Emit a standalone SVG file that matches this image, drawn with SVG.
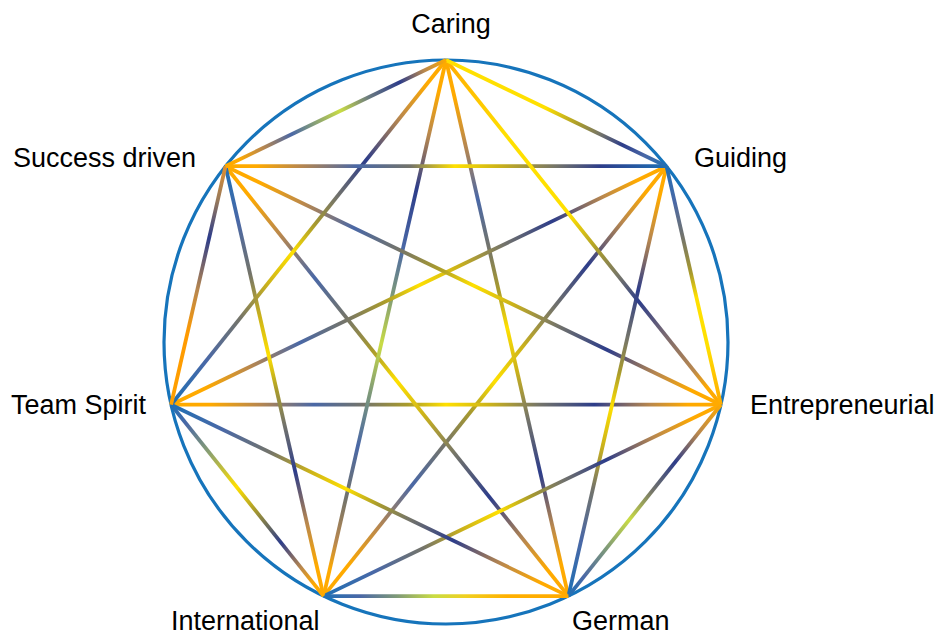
<svg xmlns="http://www.w3.org/2000/svg" xmlns:xlink="http://www.w3.org/1999/xlink" width="934" height="635" viewBox="0 0 934 635">
<style>
.lbl{font-family:"Liberation Sans",Arial,sans-serif;font-size:27px;fill:#000}
.edge{stroke-width:3.8;fill:none}
.ring{fill:none;stroke:#1674bb;stroke-width:3.2}
</style>
<defs>
<linearGradient id="t2">
<stop offset="0" stop-color="#ffaa00"/><stop offset=".07" stop-color="#ffaa00"/><stop offset=".17" stop-color="#b8874e"/><stop offset=".29" stop-color="#2d3d8a"/><stop offset=".4" stop-color="#74746a"/><stop offset=".48" stop-color="#a99b2c"/><stop offset=".56" stop-color="#ffe000"/><stop offset=".65" stop-color="#cbb21a"/><stop offset=".75" stop-color="#74746a"/><stop offset=".87" stop-color="#4a68a6"/><stop offset="1" stop-color="#1f70b5"/>
</linearGradient>
<linearGradient id="t3">
<stop offset="0" stop-color="#ffaa00"/><stop offset=".07" stop-color="#ffaa00"/><stop offset=".16" stop-color="#b8874e"/><stop offset=".26" stop-color="#4a68a6"/><stop offset=".35" stop-color="#74746a"/><stop offset=".43" stop-color="#a99b2c"/><stop offset=".5" stop-color="#ffe000"/><stop offset=".58" stop-color="#cbb21a"/><stop offset=".67" stop-color="#74746a"/><stop offset=".77" stop-color="#2d3d8a"/><stop offset=".87" stop-color="#b8874e"/><stop offset=".94" stop-color="#ffaa00"/><stop offset="1" stop-color="#ffaa00"/>
</linearGradient>
<linearGradient id="t3l">
<stop offset="0" stop-color="#ffaa00"/><stop offset=".06" stop-color="#ffaa00"/><stop offset=".14" stop-color="#b8874e"/><stop offset=".24" stop-color="#2d3d8a"/><stop offset=".35" stop-color="#4a68a6"/><stop offset=".44" stop-color="#7f9a78"/><stop offset=".53" stop-color="#c9dc44"/><stop offset=".62" stop-color="#7f9a78"/><stop offset=".72" stop-color="#4a68a6"/><stop offset=".82" stop-color="#74746a"/><stop offset=".9" stop-color="#b8874e"/><stop offset=".95" stop-color="#ffaa00"/><stop offset="1" stop-color="#ffaa00"/>
</linearGradient>

<linearGradient id="gCG" gradientUnits="userSpaceOnUse" x1="446" y1="60" x2="666.5" y2="166.2">
<stop offset="0" stop-color="#ffe000"/><stop offset=".45" stop-color="#ffe000"/><stop offset=".6" stop-color="#a99b2c"/><stop offset=".7" stop-color="#74746a"/><stop offset=".8" stop-color="#2d3d8a"/><stop offset=".9" stop-color="#4a68a6"/><stop offset="1" stop-color="#1f70b5"/>
</linearGradient>
<linearGradient id="gGE" gradientUnits="userSpaceOnUse" x1="666.5" y1="166.2" x2="720.9" y2="404.7">
<stop offset="0" stop-color="#1f70b5"/><stop offset=".15" stop-color="#4a68a6"/><stop offset=".3" stop-color="#74746a"/><stop offset=".45" stop-color="#a99b2c"/><stop offset=".55" stop-color="#ffe000"/><stop offset=".75" stop-color="#ffe000"/><stop offset=".88" stop-color="#ffc400"/><stop offset="1" stop-color="#ffaa00"/>
</linearGradient>
<linearGradient id="gEGe" gradientUnits="userSpaceOnUse" x1="720.9" y1="404.7" x2="568.4" y2="596.1">
<stop offset="0" stop-color="#ffaa00"/><stop offset=".15" stop-color="#b8874e"/><stop offset=".3" stop-color="#2d3d8a"/><stop offset=".45" stop-color="#74746a"/><stop offset=".6" stop-color="#c9dc44"/><stop offset=".75" stop-color="#7f9a78"/><stop offset=".9" stop-color="#4a68a6"/><stop offset="1" stop-color="#1f70b5"/>
</linearGradient>
<linearGradient id="gGeI" gradientUnits="userSpaceOnUse" x1="568.4" y1="596.1" x2="323.6" y2="596.1">
<stop offset="0" stop-color="#ffaa00"/><stop offset=".25" stop-color="#ffb000"/><stop offset=".42" stop-color="#f0d020"/><stop offset=".55" stop-color="#c9dc44"/><stop offset=".7" stop-color="#7f9a78"/><stop offset=".85" stop-color="#4a68a6"/><stop offset="1" stop-color="#1f70b5"/>
</linearGradient>
<linearGradient id="gIT" gradientUnits="userSpaceOnUse" x1="323.6" y1="596.1" x2="171.1" y2="404.7">
<stop offset="0" stop-color="#ffaa00"/><stop offset=".06" stop-color="#ffaa00"/><stop offset=".15" stop-color="#b8874e"/><stop offset=".28" stop-color="#2d3d8a"/><stop offset=".45" stop-color="#a99b2c"/><stop offset=".57" stop-color="#ffe000"/><stop offset=".75" stop-color="#8aa070"/><stop offset=".9" stop-color="#4a68a6"/><stop offset="1" stop-color="#1f70b5"/>
</linearGradient>
<linearGradient id="gTS" gradientUnits="userSpaceOnUse" x1="171.1" y1="404.7" x2="225.5" y2="166.2">
<stop offset="0" stop-color="#ffa000"/><stop offset=".3" stop-color="#ff9a00"/><stop offset=".48" stop-color="#b8874e"/><stop offset=".7" stop-color="#2d3d8a"/><stop offset=".86" stop-color="#9a7a5a"/><stop offset="1" stop-color="#e09030"/>
</linearGradient>
<linearGradient id="gSC" gradientUnits="userSpaceOnUse" x1="225.5" y1="166.2" x2="446" y2="60">
<stop offset="0" stop-color="#ffaa00"/><stop offset=".06" stop-color="#ffaa00"/><stop offset=".17" stop-color="#b8874e"/><stop offset=".3" stop-color="#4a68a6"/><stop offset=".52" stop-color="#c9dc44"/><stop offset=".65" stop-color="#6a7a80"/><stop offset=".79" stop-color="#2d3d8a"/><stop offset=".9" stop-color="#b8874e"/><stop offset="1" stop-color="#ffaa00"/>
</linearGradient>
<linearGradient id="gCE" gradientUnits="userSpaceOnUse" x1="446" y1="60" x2="720.9" y2="404.7">
<stop offset="0" stop-color="#ffaa00"/><stop offset=".12" stop-color="#ffc800"/><stop offset=".22" stop-color="#ffe000"/><stop offset=".45" stop-color="#ffe000"/><stop offset=".55" stop-color="#a99b2c"/><stop offset=".63" stop-color="#74746a"/><stop offset=".7" stop-color="#2d3d8a"/><stop offset=".8" stop-color="#7a6a70"/><stop offset=".9" stop-color="#b8874e"/><stop offset=".95" stop-color="#ffaa00"/><stop offset="1" stop-color="#ffaa00"/>
</linearGradient>
<linearGradient id="gSG" gradientUnits="userSpaceOnUse" x1="225.5" y1="166.2" x2="666.5" y2="166.2">
<stop offset="0" stop-color="#ffaa00"/><stop offset=".07" stop-color="#ffaa00"/><stop offset=".17" stop-color="#b8874e"/><stop offset=".3" stop-color="#4a68a6"/><stop offset=".42" stop-color="#74746a"/><stop offset=".52" stop-color="#ffe000"/><stop offset=".62" stop-color="#cbb21a"/><stop offset=".75" stop-color="#74746a"/><stop offset=".85" stop-color="#2d3d8a"/><stop offset="1" stop-color="#1f70b5"/>
</linearGradient>
<linearGradient id="gGGe" xlink:href="#t2" gradientUnits="userSpaceOnUse" x1="666.5" y1="166.2" x2="568.4" y2="596.1"/>
<linearGradient id="gEI" xlink:href="#t2" gradientUnits="userSpaceOnUse" x1="720.9" y1="404.7" x2="323.6" y2="596.1"/>
<linearGradient id="gGeT" xlink:href="#t2" gradientUnits="userSpaceOnUse" x1="568.4" y1="596.1" x2="171.1" y2="404.7"/>
<linearGradient id="gIS" xlink:href="#t2" gradientUnits="userSpaceOnUse" x1="323.6" y1="596.1" x2="225.5" y2="166.2"/>
<linearGradient id="gCT" xlink:href="#t2" gradientUnits="userSpaceOnUse" x1="446" y1="60" x2="171.1" y2="404.7"/>
<linearGradient id="gCGe" xlink:href="#t3" gradientUnits="userSpaceOnUse" x1="446" y1="60" x2="568.4" y2="596.1"/>
<linearGradient id="gIG" xlink:href="#t3" gradientUnits="userSpaceOnUse" x1="323.6" y1="596.1" x2="666.5" y2="166.2"/>
<linearGradient id="gTE" xlink:href="#t3" gradientUnits="userSpaceOnUse" x1="171.1" y1="404.7" x2="720.9" y2="404.7"/>
<linearGradient id="gSGe" xlink:href="#t3" gradientUnits="userSpaceOnUse" x1="225.5" y1="166.2" x2="568.4" y2="596.1"/>
<linearGradient id="gCI" xlink:href="#t3l" gradientUnits="userSpaceOnUse" x1="446" y1="60" x2="323.6" y2="596.1"/>
<linearGradient id="gTG" xlink:href="#t3" gradientUnits="userSpaceOnUse" x1="171.1" y1="404.7" x2="666.5" y2="166.2"/>
<linearGradient id="gSE" xlink:href="#t3" gradientUnits="userSpaceOnUse" x1="225.5" y1="166.2" x2="720.9" y2="404.7"/>
</defs>

<rect width="934" height="635" fill="#fff"/>
<circle class="ring" cx="446" cy="342" r="282"/>

<g id="connectors">
<line class="edge" stroke="url(#gCGe)" x1="446" y1="60" x2="568.4" y2="596.1"/>
<line class="edge" stroke="url(#gIG)" x1="323.6" y1="596.1" x2="666.5" y2="166.2"/>
<line class="edge" stroke="url(#gTE)" x1="171.1" y1="404.7" x2="720.9" y2="404.7"/>
<line class="edge" stroke="url(#gSGe)" x1="225.5" y1="166.2" x2="568.4" y2="596.1"/>
<line class="edge" stroke="url(#gCI)" x1="446" y1="60" x2="323.6" y2="596.1"/>
<line class="edge" stroke="url(#gTG)" x1="171.1" y1="404.7" x2="666.5" y2="166.2"/>
<line class="edge" stroke="url(#gSE)" x1="225.5" y1="166.2" x2="720.9" y2="404.7"/>
<line class="edge" stroke="url(#gGGe)" x1="666.5" y1="166.2" x2="568.4" y2="596.1"/>
<line class="edge" stroke="url(#gEI)" x1="720.9" y1="404.7" x2="323.6" y2="596.1"/>
<line class="edge" stroke="url(#gGeT)" x1="568.4" y1="596.1" x2="171.1" y2="404.7"/>
<line class="edge" stroke="url(#gIS)" x1="323.6" y1="596.1" x2="225.5" y2="166.2"/>
<line class="edge" stroke="url(#gCT)" x1="446" y1="60" x2="171.1" y2="404.7"/>
<line class="edge" stroke="url(#gSG)" x1="225.5" y1="166.2" x2="666.5" y2="166.2"/>
<line class="edge" stroke="url(#gCE)" x1="446" y1="60" x2="720.9" y2="404.7"/>
<line class="edge" stroke="url(#gCG)" x1="446" y1="60" x2="666.5" y2="166.2"/>
<line class="edge" stroke="url(#gGE)" x1="666.5" y1="166.2" x2="720.9" y2="404.7"/>
<line class="edge" stroke="url(#gEGe)" x1="720.9" y1="404.7" x2="568.4" y2="596.1"/>
<line class="edge" stroke="url(#gGeI)" x1="568.4" y1="596.1" x2="323.6" y2="596.1"/>
<line class="edge" stroke="url(#gIT)" x1="323.6" y1="596.1" x2="171.1" y2="404.7"/>
<line class="edge" stroke="url(#gTS)" x1="171.1" y1="404.7" x2="225.5" y2="166.2"/>
<line class="edge" stroke="url(#gSC)" x1="225.5" y1="166.2" x2="446" y2="60"/>
</g>

<g id="node-caring"><text class="lbl" x="451" y="33" text-anchor="middle">Caring</text></g>
<g id="node-guiding"><text class="lbl" x="694" y="167">Guiding</text></g>
<g id="node-entrepreneurial"><text class="lbl" x="750" y="414">Entrepreneurial</text></g>
<g id="node-german"><text class="lbl" x="572" y="630">German</text></g>
<g id="node-international"><text class="lbl" x="171" y="630">International</text></g>
<g id="node-team-spirit"><text class="lbl" x="11" y="414">Team Spirit</text></g>
<g id="node-success-driven"><text class="lbl" x="13" y="167">Success driven</text></g>
</svg>
